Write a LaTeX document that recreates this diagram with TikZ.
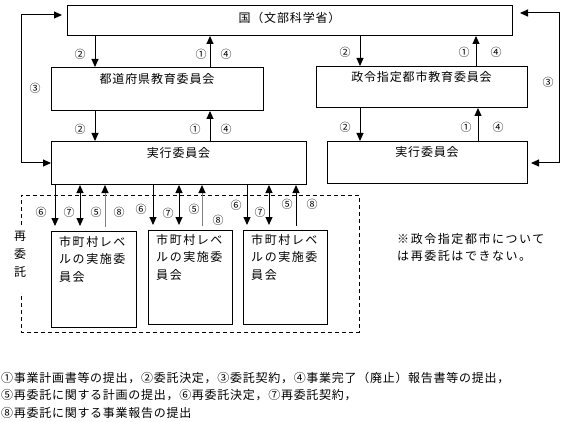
\documentclass[tikz,border=0pt]{standalone}
\usepackage{fontspec}
\setmainfont{Noto Sans CJK JP}
\newfontfamily\jpA[LetterSpace=7]{Noto Sans CJK JP}
\newfontfamily\jpB[LetterSpace=13]{Noto Sans CJK JP}
\newfontfamily\jpC[LetterSpace=6]{Noto Sans CJK JP}
\usetikzlibrary{arrows.meta}
\begin{document}
\begin{tikzpicture}[x=1pt,y=-1pt,
  box/.style={draw, line width=1pt, inner sep=0pt, anchor=north west},
  ttl/.style={font=\fontsize{12}{14}\jpA, inner sep=0pt},
  subt/.style={font=\fontsize{12}{17.5}\jpB, inner sep=0pt, align=left, anchor=north west},
  arr/.style={line width=1pt, -{Triangle[length=8pt,width=7pt]}},
  darr/.style={line width=1pt, {Triangle[length=8pt,width=7pt]}-{Triangle[length=8pt,width=7pt]}},
  garr/.style={line width=1pt, draw=gray, -{Triangle[length=8pt,width=7pt,color=black,fill=black]}},
  num/.style={font=\fontsize{11}{12}\selectfont, inner sep=0pt},
  ]
\useasboundingbox (0,0) rectangle (564,422);

% boxes
\node[box, minimum width=445pt, minimum height=30pt] (kuni) at (67,5) {};
\node[box, minimum width=212pt, minimum height=43pt] (pref) at (51,67) {};
\node[box, minimum width=255pt, minimum height=43pt] (jikL) at (51,141) {};
\node[box, minimum width=211pt, minimum height=41pt] (seirei) at (316,66) {};
\node[box, minimum width=200pt, minimum height=42pt] (jikR) at (327,141) {};
\node[box, minimum width=85pt, minimum height=96pt] (s1) at (51,231) {};
\node[box, minimum width=84pt, minimum height=94pt] (s2) at (148,230) {};
\node[box, minimum width=84pt, minimum height=94pt] (s3) at (243,230) {};

% titles
\node[ttl] (kunit) at (289.5,18) {国（文部科学省）};
\node[ttl] (preft) at (157,79) {都道府県教育委員会};
\node[ttl] (jikLt) at (178.5,153) {実行委員会};
\node[ttl] (seireit) at (421.5,77) {政令指定都市教育委員会};
\node[ttl] (jikRt) at (427,152) {実行委員会};

\node[subt] (s1t) at (59,236) {市町村レベ\\ルの実施委\\員会};
\node[subt] (s2t) at (156,234) {市町村レベ\\ルの実施委\\員会};
\node[subt] (s3t) at (251,234) {市町村レベ\\ルの実施委\\員会};

% dashed area
\draw[line width=1pt, dash pattern=on 4pt off 3pt]
  (21,225) -- (21,195) -- (359,195) -- (359,332) -- (21,332) -- (21,293);
\node[font=\fontsize{12}{18}\selectfont, inner sep=0pt, align=center] (sai) at (20,254) {再\\委\\託};

% note
\node[subt] (note) at (397,233) {※政令指定都市について\\は再委託はできない。};

% legend
\node[font=\fontsize{12}{17.5}\jpC, inner sep=0pt, align=left, anchor=north west] (legend) at (1,372)
 {①事業計画書等の提出，②委託決定，③委託契約，④事業完了（廃止）報告書等の提出，\\
  ⑤再委託に関する計画の提出，⑥再委託決定，⑦再委託契約，\\
  ⑧再委託に関する事業報告の提出};

% column coordinates
\coordinate (xa) at (95,0);
\coordinate (xb) at (210,0);
\coordinate (xc) at (360,0);
\coordinate (xd) at (476,0);
\coordinate (xe) at (478,0);
\coordinate (g1a) at (55,0);
\coordinate (g1b) at (80,0);
\coordinate (g1c) at (105,0);
\coordinate (g2a) at (153,0);
\coordinate (g2b) at (179,0);
\coordinate (g2c) at (202,0);
\coordinate (g3a) at (247,0);
\coordinate (g3b) at (269,0);
\coordinate (g3c) at (296,0);
\coordinate (L3a) at (21,15);
\coordinate (L3b) at (21,163);
\coordinate (R3a) at (559,13);
\coordinate (R3b) at (559,163);

% main arrows
\draw[arr] (kuni.south -| xa) -- (pref.north -| xa);
\draw[arr] (pref.north -| xb) -- (kuni.south -| xb);
\draw[arr] (pref.south -| xa) -- (jikL.north -| xa);
\draw[arr] (jikL.north -| xb) -- (pref.south -| xb);
\draw[arr] (kuni.south -| xc) -- (seirei.north -| xc);
\draw[arr] (seirei.north -| xd) -- (kuni.south -| xd);
\draw[arr] (seirei.south -| xc) -- (jikR.north -| xc);
\draw[arr] (jikR.north -| xe) -- (seirei.south -| xe);

% contract arrows (3)
\draw[darr, shorten <=5pt] (kuni.west |- L3a) -- (L3a) -- (L3b) -- (jikL.west |- L3b);
\draw[darr, shorten <=7pt, shorten >=3pt] (kuni.east |- R3a) -- (R3a) -- (R3b) -- (jikR.east |- R3b);

% sub arrows
\draw[arr, shorten >=5pt] (jikL.south -| g1a) -- (s1.north -| g1a);
\draw[darr, shorten >=5pt] (jikL.south -| g1b) -- (s1.north -| g1b);
\draw[garr, shorten <=4pt] (s1.north -| g1c) -- (jikL.south -| g1c);
\draw[arr, shorten >=5pt] (jikL.south -| g2a) -- (s2.north -| g2a);
\draw[darr, shorten >=5pt] (jikL.south -| g2b) -- (s2.north -| g2b);
\draw[garr, shorten <=4pt] (s2.north -| g2c) -- (jikL.south -| g2c);
\draw[arr, shorten >=5pt] (jikL.south -| g3a) -- (s3.north -| g3a);
\draw[darr, shorten >=5pt] (jikL.south -| g3b) -- (s3.north -| g3b);
\draw[arr, shorten <=4pt] (s3.north -| g3c) -- (jikL.south -| g3c);

% number labels
\node[num] (n1) at (80,54) {②};
\node[num] (n2) at (201,54) {①};
\node[num] (n3) at (226,54) {④};
\node[num] (n4) at (80,129) {②};
\node[num] (n5) at (195,129) {①};
\node[num] (n6) at (226,129) {④};
\node[num] (n7) at (35,88) {③};
\node[num] (n8) at (345,52) {②};
\node[num] (n9) at (464,52) {①};
\node[num] (n10) at (496,52) {④};
\node[num] (n11) at (345,127) {②};
\node[num] (n12) at (466,127) {①};
\node[num] (n13) at (498,127) {④};
\node[num] (n14) at (548,82) {③};
\node[num] (m1) at (41,212) {⑥};
\node[num] (m2) at (69,212) {⑦};
\node[num] (m3) at (96,212) {⑤};
\node[num] (m4) at (119,212) {⑧};
\node[num] (m5) at (141,209) {⑥};
\node[num] (m6) at (168,213) {⑦};
\node[num] (m7) at (194,209) {⑤};
\node[num] (m8) at (218,220) {⑧};
\node[num] (m9) at (236,205) {⑥};
\node[num] (m10) at (260,212) {⑦};
\node[num] (m11) at (287,204) {⑤};
\node[num] (m12) at (312,204) {⑧};
\end{tikzpicture}
\end{document}
